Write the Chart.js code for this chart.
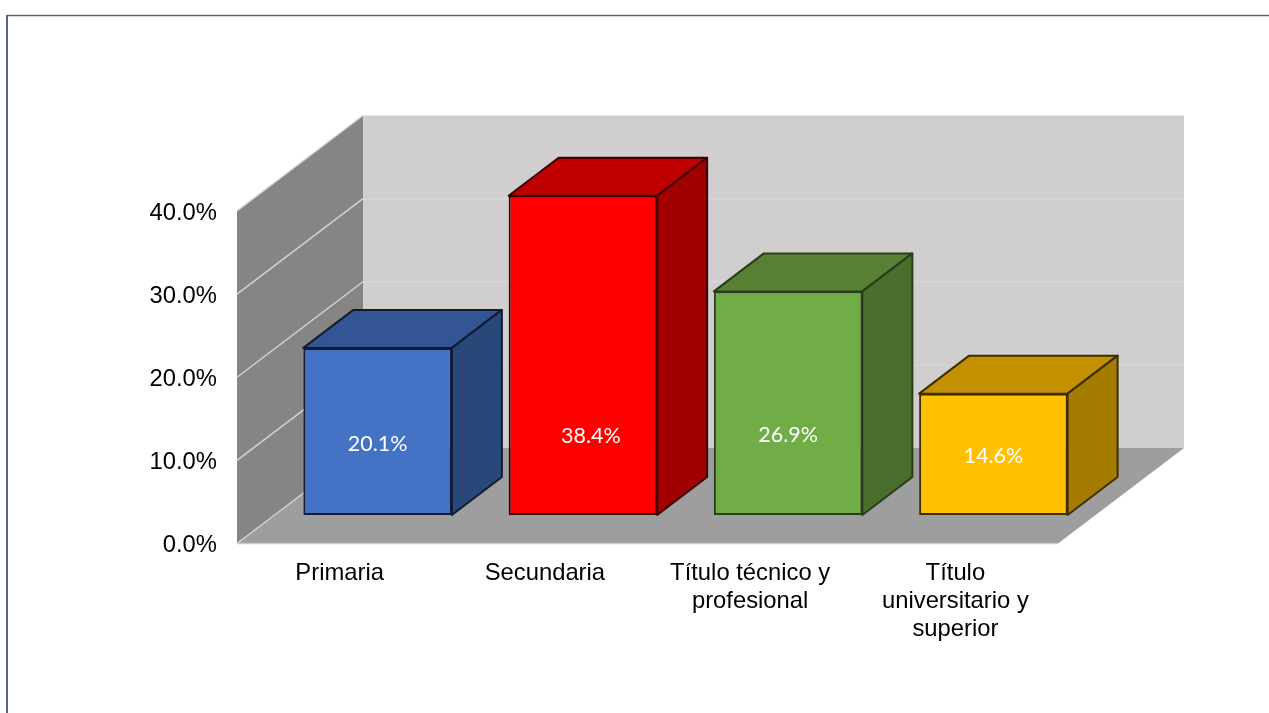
<!DOCTYPE html>
<html lang="es">
<head>
<meta charset="utf-8">
<title>Nivel educativo</title>
<script src="https://cdn.jsdelivr.net/npm/chart.js@4/dist/chart.umd.min.js"></script>
<style>
  html, body { margin: 0; padding: 0; background: #fff; }
  #wrap { width: 1269px; height: 713px; position: relative; overflow: hidden; }
</style>
</head>
<body>
<div id="wrap"><canvas id="chart"></canvas></div>
<script>
const categories = [
  'Primaria',
  'Secundaria',
  ['Título técnico y', 'profesional'],
  ['Título', 'universitario y', 'superior']
];
const values = [20.1, 38.4, 26.9, 14.6];
const yTicks = [0, 10, 20, 30, 40];

const frontColors = ['#4472c4', '#ff0000', '#70ad47', '#ffc000'];
const sideColors = ['#2a4779', '#a00000', '#4a6e2b', '#a67c00'];
const topColors = ['#335593', '#c00000', '#588135', '#c39100'];
const edgeColors = ['#111c30', '#3a0000', '#2a3d1b', '#3d2e00'];

// hand placed value labels, offset from the middle of each bar
const labelNudgeX = [0, 8, 0, 0];
const labelNudgeY = [13, 81, 32, 2];

// box perspective: back wall offset and where the bars stand on the floor
const wallDx = 126, wallDy = 95.5;
const barDx = 38, barDy = 28.5;
const depthDx = 50, depthDy = 38;

function poly(ctx, pts, fill, stroke) {
  ctx.beginPath();
  pts.forEach((p, i) => i ? ctx.lineTo(p[0], p[1]) : ctx.moveTo(p[0], p[1]));
  ctx.closePath();
  ctx.fillStyle = fill;
  ctx.fill();
  if (stroke) {
    ctx.strokeStyle = stroke;
    ctx.lineWidth = 2;
    ctx.lineJoin = 'round';
    ctx.stroke();
  }
}

const box3d = {
  id: 'box3d',
  beforeDatasetsDraw(chart) {
    const { ctx, scales: { x, y } } = chart;
    const l = x.left, r = x.right;
    const y0 = y.getPixelForValue(0), yMax = y.getPixelForValue(40);

    // page frame
    ctx.save();
    ctx.strokeStyle = '#56667f';
    ctx.lineWidth = 2;
    ctx.beginPath();
    ctx.moveTo(7, 713);
    ctx.lineTo(7, 15.5);
    ctx.stroke();
    ctx.lineWidth = 1.5;
    ctx.beginPath();
    ctx.moveTo(6, 15.5);
    ctx.lineTo(1269, 15.5);
    ctx.stroke();

    // back wall, side wall, floor
    poly(ctx, [[l + wallDx, yMax - wallDy], [r + wallDx, yMax - wallDy], [r + wallDx, y0 - wallDy], [l + wallDx, y0 - wallDy]], '#d0cece');
    poly(ctx, [[l, yMax], [l + wallDx, yMax - wallDy], [l + wallDx, y0 - wallDy], [l, y0]], '#868585');
    poly(ctx, [[l, y0], [l + wallDx, y0 - wallDy], [r + wallDx, y0 - wallDy], [r, y0]], '#9e9e9e');

    // gridlines run along the side wall and across the back
    ctx.lineWidth = 1.5;
    yTicks.forEach(t => {
      const py = y.getPixelForValue(t);
      ctx.strokeStyle = '#d4d3d3';
      ctx.beginPath();
      ctx.moveTo(l, py);
      ctx.lineTo(l + wallDx, py - wallDy);
      ctx.stroke();
      if (t > 0 && t < 40) {
        ctx.strokeStyle = '#d7d6d6';
        ctx.beginPath();
        ctx.moveTo(l + wallDx, py - wallDy);
        ctx.lineTo(r + wallDx, py - wallDy);
        ctx.stroke();
      }
    });
    ctx.strokeStyle = '#c9c9c9';
    ctx.beginPath();
    ctx.moveTo(l, y0);
    ctx.lineTo(r, y0);
    ctx.stroke();
    ctx.restore();
  },
  beforeDatasetDraw(chart, args) {
    const ctx = chart.ctx;
    ctx.save();
    ctx.translate(barDx, -barDy);
    // top and side faces sit behind the native front rectangle
    args.meta.data.forEach((bar, i) => {
      const a = bar.x - bar.width / 2, b = bar.x + bar.width / 2;
      const t = bar.y, base = bar.base;
      poly(ctx, [[a, t], [a + depthDx, t - depthDy], [b + depthDx, t - depthDy], [b, t]], topColors[i], edgeColors[i]);
      poly(ctx, [[b, t], [b + depthDx, t - depthDy], [b + depthDx, base - depthDy], [b, base]], sideColors[i], edgeColors[i]);
    });
  },
  afterDatasetDraw(chart) {
    chart.ctx.restore();
  },
  afterDatasetsDraw(chart) {
    const ctx = chart.ctx;
    ctx.save();
    ctx.font = '21.5px Lato';
    ctx.fillStyle = '#ffffff';
    ctx.textAlign = 'center';
    ctx.textBaseline = 'middle';
    chart.getDatasetMeta(0).data.forEach((bar, i) => {
      ctx.fillText(
        values[i].toFixed(1) + '%',
        bar.x + barDx + labelNudgeX[i],
        (bar.y + bar.base) / 2 - barDy + labelNudgeY[i]
      );
    });
    ctx.restore();
  }
};

new Chart(document.getElementById('chart'), {
  type: 'bar',
  data: {
    labels: categories,
    datasets: [{
      data: values,
      backgroundColor: frontColors,
      borderColor: edgeColors,
      borderWidth: 2,
      borderSkipped: false,
      barPercentage: 1,
      categoryPercentage: 0.7235,
      clip: false
    }]
  },
  options: {
    responsive: true,
    maintainAspectRatio: false,
    animation: false,
    layout: {
      autoPadding: false,
      padding: { top: 211, right: 211, left: 0, bottom: 0 }
    },
    plugins: {
      legend: { display: false },
      title: { display: false },
      tooltip: { enabled: false }
    },
    scales: {
      x: {
        grid: { display: false, drawTicks: false },
        border: { display: false },
        ticks: {
          color: '#000',
          padding: 16,
          maxRotation: 0,
          autoSkip: false,
          font: { family: '"Liberation Sans"', size: 23.8, lineHeight: 28 / 23.8 }
        },
        afterFit(scale) { scale.height = 713 - 543.5; }
      },
      y: {
        min: 0,
        max: 40,
        grid: { display: false, drawTicks: false },
        border: { display: false },
        ticks: {
          stepSize: 10,
          color: '#000',
          padding: 20,
          labelOffset: 2,
          font: { family: '"Liberation Sans"', size: 23.8 },
          callback: v => v.toFixed(1) + '%'
        },
        afterFit(scale) { scale.width = 237; }
      }
    }
  },
  plugins: [box3d]
});
</script>
</body>
</html>
